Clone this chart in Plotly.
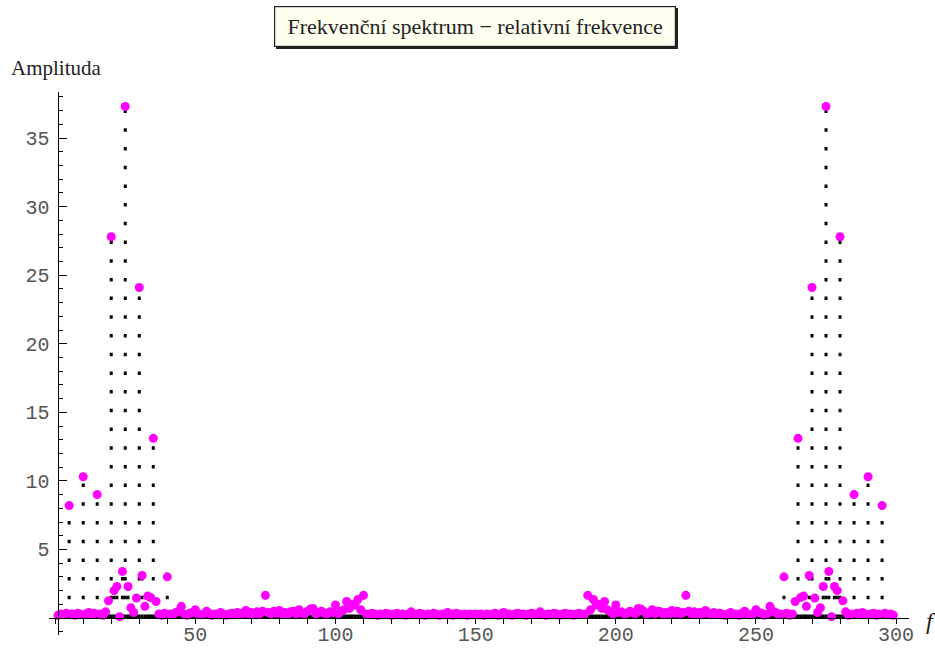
import plotly.graph_objects as go

# frequency index (1..299)
freq = list(range(1, 300))

# amplitudes, f = 1..150
amp_low = [0.2, 0.3, 0.25, 0.35, 8.2, 0.3, 0.2, 0.35, 0.3, 10.3,
           0.3, 0.4, 0.25, 0.35, 9.0, 0.3, 0.2, 0.45, 1.25, 27.8,
           2.0, 2.3, 0.1, 3.4, 37.3, 2.3, 0.75, 0.4, 1.45, 24.1,
           3.1, 0.85, 1.6, 1.5, 13.1, 1.2, 0.3, 0.2, 0.35, 3.0,
           0.3, 0.25, 0.4, 0.5, 0.85, 0.3, 0.2, 0.35, 0.4, 0.6,
           0.3, 0.25, 0.3, 0.5, 0.35, 0.2, 0.3, 0.25, 0.4, 0.3,
           0.2, 0.3, 0.35, 0.25, 0.4, 0.3, 0.35, 0.55, 0.3, 0.4,
           0.25, 0.45, 0.3, 0.5, 1.65, 0.4, 0.3, 0.5, 0.35, 0.55,
           0.3, 0.4, 0.25, 0.45, 0.5, 0.3, 0.6, 0.35, 0.3, 0.5,
           0.65, 0.7, 0.3, 0.4, 0.5, 0.35, 0.3, 0.45, 0.4, 0.95,
           0.3, 0.5, 0.6, 1.2, 0.7, 1.0, 0.95, 1.35, 0.6, 1.65,
           0.3, 0.25, 0.35, 0.3, 0.2, 0.3, 0.25, 0.35, 0.3, 0.2,
           0.3, 0.35, 0.25, 0.3, 0.2, 0.3, 0.45, 0.3, 0.25, 0.35,
           0.3, 0.2, 0.3, 0.25, 0.35, 0.3, 0.2, 0.3, 0.25, 0.4,
           0.3, 0.2, 0.35, 0.3, 0.25, 0.3, 0.2, 0.3, 0.25, 0.3]

# amplitudes, f = 151..299
amp_high = [0.25, 0.3, 0.2, 0.3, 0.25, 0.3, 0.35, 0.2, 0.3, 0.4,
            0.25, 0.3, 0.2, 0.3, 0.35, 0.25, 0.3, 0.2, 0.3, 0.35,
            0.25, 0.3, 0.45, 0.3, 0.2, 0.3, 0.25, 0.35, 0.3, 0.2,
            0.3, 0.35, 0.25, 0.3, 0.2, 0.3, 0.35, 0.25, 0.3, 1.65,
            0.6, 1.35, 0.95, 1.0, 0.7, 1.2, 0.6, 0.5, 0.3, 0.95,
            0.4, 0.45, 0.3, 0.35, 0.5, 0.4, 0.3, 0.7, 0.65, 0.5,
            0.3, 0.35, 0.6, 0.3, 0.5, 0.45, 0.25, 0.4, 0.3, 0.55,
            0.35, 0.5, 0.3, 0.4, 1.65, 0.5, 0.3, 0.45, 0.25, 0.4,
            0.3, 0.55, 0.35, 0.3, 0.4, 0.25, 0.35, 0.3, 0.2, 0.3,
            0.4, 0.25, 0.3, 0.2, 0.35, 0.5, 0.3, 0.25, 0.3, 0.6,
            0.4, 0.35, 0.2, 0.3, 0.85, 0.5, 0.4, 0.25, 0.3, 3.0,
            0.35, 0.2, 0.3, 1.2, 13.1, 1.5, 1.6, 0.85, 3.1, 24.1,
            1.45, 0.4, 0.75, 2.3, 37.3, 3.4, 0.1, 2.3, 2.0, 27.8,
            1.25, 0.45, 0.2, 0.3, 9.0, 0.35, 0.25, 0.4, 0.3, 10.3,
            0.3, 0.35, 0.2, 0.3, 8.2, 0.35, 0.25, 0.3, 0.2]

amp = amp_low + amp_high

x_ticks = [50, 100, 150, 200, 250, 300]
y_ticks = [5, 10, 15, 20, 25, 30, 35]

title_text = "Frekvenční spektrum − relativní frekvence"
y_title = "Amplituda"
x_title = "f"

# drop lines (filling to axis)
drop_x, drop_y = [], []
for f, a in zip(freq, amp):
    drop_x += [f, f, None]
    drop_y += [0, a, None]

fig = go.Figure()
fig.add_trace(go.Scatter(
    x=drop_x, y=drop_y, mode="lines",
    line=dict(color="black", width=3, dash="3.5px,15.2px"),
    hoverinfo="skip", showlegend=False))
fig.add_trace(go.Scatter(
    x=freq, y=amp, mode="markers",
    marker=dict(color="#FF00FF", size=9, line=dict(width=0)),
    showlegend=False))

X0, X1 = -2.2, 304.6
Y0, Y1 = -1.24, 38.36
L, R, T, B = 48.7, 26, 92, 13
W, H = 935, 648
pw, ph = W - L - R, H - T - B

def px2x(px):
    return (px - L) / pw

def py2y(py):
    return (H - B - py) / ph

tickfont = dict(family="Liberation Mono", size=20, color="#555555")

fig.update_layout(
    width=W, height=H,
    margin=dict(l=L, r=R, t=T, b=B, pad=0, autoexpand=False),
    paper_bgcolor="white", plot_bgcolor="white",
    xaxis=dict(
        range=[X0, X1], showgrid=False, zeroline=False, automargin=False,
        anchor="free", position=(0 - Y0) / (Y1 - Y0),
        showline=True, linecolor="black", linewidth=1.2,
        tickmode="array", tickvals=x_ticks, ticktext=[str(v) for v in x_ticks],
        ticks="outside", ticklen=5, tickcolor="black", tickwidth=1,
        ticklabelstandoff=-7,
        tickfont=tickfont,
        minor=dict(tickmode="linear", tick0=0, dtick=10, ticks="outside",
                   ticklen=5, tickcolor="black", tickwidth=1),
    ),
    yaxis=dict(
        range=[Y0, Y1], showgrid=False, zeroline=False, automargin=False,
        anchor="free", position=(0.86 - X0) / (X1 - X0),
        showline=True, linecolor="black", linewidth=1.2,
        tickmode="array", tickvals=y_ticks, ticktext=[str(v) for v in y_ticks],
        ticks="inside", ticklen=8, tickcolor="black", tickwidth=1,
        ticklabelstandoff=4,
        tickfont=tickfont,
        minor=dict(tickmode="linear", tick0=0, dtick=1, ticks="inside",
                   ticklen=4, tickcolor="black", tickwidth=1),
    ),
    annotations=[
        # shadow of title box
        dict(text=" ", xref="paper", yref="paper",
             x=px2x(477), y=py2y(28), xanchor="center", yanchor="middle",
             showarrow=False, width=398, height=37, bgcolor="#222222",
             borderwidth=0, borderpad=2),
        dict(text=title_text, xref="paper", yref="paper",
             x=px2x(475), y=py2y(26), xanchor="center", yanchor="middle",
             showarrow=False, width=398, height=37,
             bgcolor="#FFFFF0", bordercolor="#222222", borderwidth=1.2, borderpad=1,
             font=dict(family="Liberation Serif", size=22, color="#222222")),
        dict(text=y_title, xref="paper", yref="paper",
             x=px2x(9), y=py2y(68), xanchor="left", yanchor="middle",
             showarrow=False,
             font=dict(family="Liberation Serif", size=21, color="#222222")),
        dict(text="<i>" + x_title + "</i>", xref="paper", yref="paper",
             x=px2x(924), y=py2y(621), xanchor="left", yanchor="middle",
             showarrow=False,
             font=dict(family="Liberation Serif", size=24, color="#222222")),
    ],
)

fig.write_html("out.html")
